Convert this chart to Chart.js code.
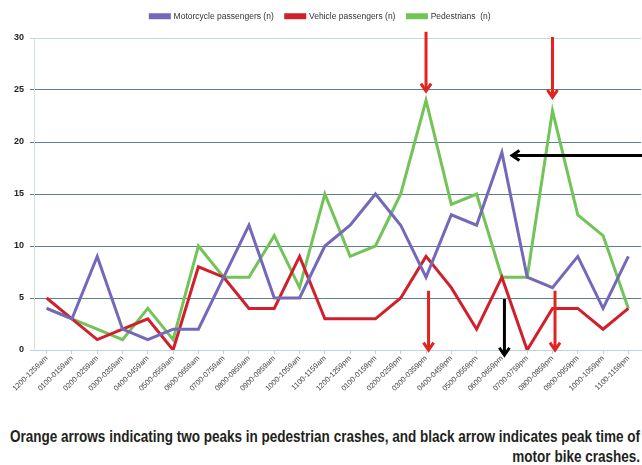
<!DOCTYPE html>
<html>
<head>
<meta charset="utf-8">
<script src="https://cdn.jsdelivr.net/npm/chart.js@4.4.1/dist/chart.umd.min.js"></script>
<style>
  body { margin: 0; background: #fff; width: 642px; height: 465px; overflow: hidden; position: relative; }
  #wrap { position: relative; width: 642px; height: 410px; }
  #caption {
    position: absolute; right: 2px; top: 427px;
    font-family: 'Liberation Sans', sans-serif;
    font-weight: bold; font-size: 16px; line-height: 20px; color: #231f20;
    text-align: right; white-space: nowrap;
    transform-origin: right top;
  }
</style>
</head>
<body>
<div id="wrap"><canvas id="myChart"></canvas></div>
<div id="caption"><span id="capLine1">Orange arrows indicating two peaks in pedestrian crashes, and black arrow indicates peak time of</span><br>motor bike crashes.</div>
<script>
// Categories (hour of day)
const hours = [
  '1200-1259am', '0100-0159am', '0200-0259am', '0300-0359am', '0400-0459am', '0500-0559am',
  '0600-0659am', '0700-0759am', '0800-0859am', '0900-0959am', '1000-1059am', '1100-1159am',
  '1200-1259pm', '0100-0159pm', '0200-0259pm', '0300-0359pm', '0400-0459pm', '0500-0559pm',
  '0600-0659pm', '0700-0759pm', '0800-0859pm', '0900-0959pm', '1000-1059pm', '1100-1159pm'
];

// Series values (n)
const motorcycle = [4, 3, 9, 2, 1, 2, 2, 7, 12, 5, 5, 10, 12, 15, 12, 7, 13, 12, 19, 7, 6, 9, 4, 9];
const vehicle = [5, 3, 1, 2, 3, 0, 8, 7, 4, 4, 9, 3, 3, 3, 5, 9, 6, 2, 7, 0, 4, 4, 2, 4];
const pedestrians = [4, 3, 2, 1, 4, 1, 10, 7, 7, 11, 6, 15, 9, 10, 15, 24, 14, 15, 7, 7, 23, 13, 11, 4];

// Y axis ticks
const yTicks = [0, 5, 10, 15, 20, 25, 30];

const RED = '#e3231f';
const BLACK = '#000000';

// Arrow annotations, in category index / value units
const arrows = [
  { x1: 15, y1: 30.6, x2: 15, y2: 24.9, color: RED },
  { x1: 20, y1: 30.1, x2: 20, y2: 24.3, color: RED },
  { x1: 15.1, y1: 5.7, x2: 15.1, y2: 0, color: RED },
  { x1: 20.1, y1: 5.7, x2: 20.1, y2: 0, color: RED },
  { x1: 18.1, y1: 4.9, x2: 18.1, y2: -0.5, color: BLACK },
  { x1: 23.7, y1: 18.7, x2: 18.4, y2: 18.7, color: BLACK }
];

const arrowPlugin = {
  id: 'arrows',
  afterInit(chart) {
    // leave a bit more room between legend and plot
    const legend = chart.legend;
    const origFit = legend.fit;
    legend.fit = function() {
      origFit.call(this);
      this.height += 7.5;
    };
  },
  afterDatasetsDraw(chart) {
    const ctx = chart.ctx;
    const xs = chart.scales.x;
    const ys = chart.scales.y;
    arrows.forEach(a => {
      const x1 = xs.getPixelForValue(a.x1), y1 = ys.getPixelForValue(a.y1);
      const x2 = xs.getPixelForValue(a.x2), y2 = ys.getPixelForValue(a.y2);
      const ang = Math.atan2(y2 - y1, x2 - x1);
      const hl = 9, hw = 0.6;
      ctx.save();
      ctx.strokeStyle = a.color;
      ctx.lineWidth = 3;
      ctx.beginPath();
      ctx.moveTo(x1, y1);
      ctx.lineTo(x2 - Math.cos(ang), y2 - Math.sin(ang));
      ctx.stroke();
      ctx.beginPath();
      ctx.moveTo(x2 - hl * Math.cos(ang - hw), y2 - hl * Math.sin(ang - hw));
      ctx.lineTo(x2, y2);
      ctx.lineTo(x2 - hl * Math.cos(ang + hw), y2 - hl * Math.sin(ang + hw));
      ctx.stroke();
      ctx.restore();
    });
  }
};

const data = {
  labels: hours,
  datasets: [
    { label: 'Motorcycle passengers (n)', data: motorcycle, borderColor: '#7468bb', backgroundColor: '#7468bb' },
    { label: 'Vehicle passengers (n)', data: vehicle, borderColor: '#d0202c', backgroundColor: '#d0202c' },
    { label: 'Pedestrians  (n)', data: pedestrians, borderColor: '#72c459', backgroundColor: '#72c459' }
  ]
};

const config = {
  type: 'line',
  data: data,
  options: {
    responsive: true,
    maintainAspectRatio: false,
    animation: false,
    layout: { padding: { top: 0, right: 1, left: 0, bottom: 0 } },
    elements: {
      line: { borderWidth: 3, tension: 0 },
      point: { radius: 0 }
    },
    plugins: {
      tooltip: { enabled: false },
      legend: {
        position: 'top',
        labels: {
          boxWidth: 19,
          boxHeight: 3,
          padding: 12,
          color: '#333',
          font: { family: 'Liberation Sans', size: 8.5 }
        }
      }
    },
    scales: {
      y: {
        min: 0,
        max: 30,
        afterFit(scale) { scale.width = 34; },
        afterBuildTicks(scale) { scale.ticks = yTicks.map(v => ({ value: v })); },
        border: { color: '#cfe3d2', width: 1 },
        grid: {
          drawTicks: true,
          tickLength: 4,
          color: ctx => ctx.tick.value === 30 ? '#c4d8de' : (ctx.tick.value === 0 ? '#bcd6de' : '#5e7f8c')
        },
        ticks: {
          color: '#222',
          padding: 6,
          font: { family: 'Liberation Sans', size: 9, weight: 'bold' }
        }
      },
      x: {
        offset: true,
        afterFit(scale) { scale.height = 60; },
        border: { color: '#bcd6de', width: 1 },
        grid: { drawOnChartArea: false, drawTicks: true, tickLength: 4, color: '#bcd6de' },
        ticks: {
          color: '#444',
          autoSkip: false,
          maxRotation: 45,
          minRotation: 45,
          padding: 0,
          font: { family: 'Liberation Sans', size: 7.5 }
        }
      }
    }
  },
  plugins: [arrowPlugin]
};

const myChart = new Chart(document.getElementById('myChart'), config);

// squeeze the caption to the condensed width of the original
const caption = document.getElementById('caption');
const lineW = document.getElementById('capLine1').getBoundingClientRect().width;
caption.style.transform = 'scaleX(' + (630 / lineW) + ')';
</script>
</body>
</html>
